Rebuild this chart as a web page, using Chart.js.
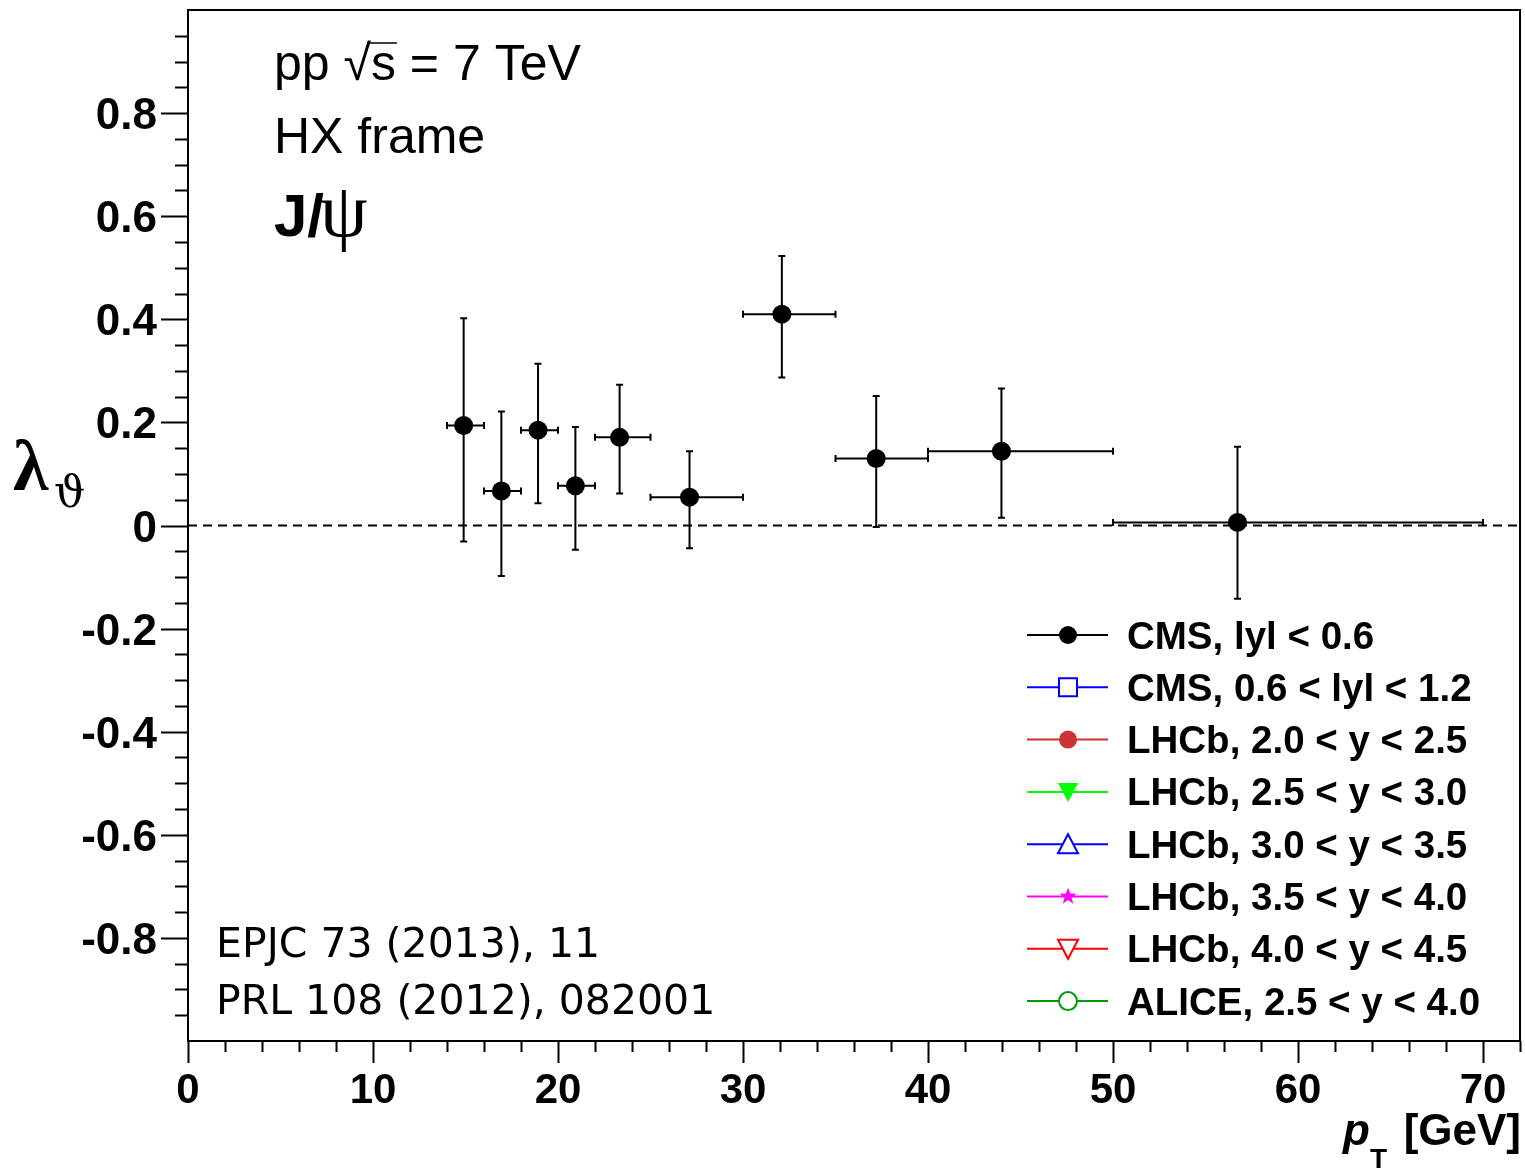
<!DOCTYPE html>
<html>
<head>
<meta charset="utf-8">
<script src="https://cdn.jsdelivr.net/npm/chart.js@4.4.0/dist/chart.umd.min.js"></script>
<style>
  html, body { margin: 0; padding: 0; background: #fff; }
  canvas { display: block; }
</style>
</head>
<body>
<canvas id="lambda" width="1525" height="1168"></canvas>
<script>
// CMS |y| < 0.6 points (pT bin centre, bin edges, lambda_theta and its error band)
const ptCenter = [14.9, 16.94, 18.92, 20.94, 23.33, 27.11, 32.1, 37.2, 43.97, 56.73];
const ptLow    = [14, 16, 18, 20, 22, 25, 30, 35, 40, 50];
const ptHigh   = [16, 18, 20, 22, 25, 30, 35, 40, 50, 70];
const lamTheta = [0.194, 0.067, 0.185, 0.077, 0.171, 0.055, 0.410, 0.130, 0.144, 0.006];
const lamLow   = [-0.031, -0.098, 0.043, -0.047, 0.062, -0.044, 0.287, -0.003, 0.015, -0.142];
const lamHigh  = [0.402, 0.221, 0.314, 0.191, 0.273, 0.144, 0.523, 0.251, 0.266, 0.153];

const seriesNames = ['CMS, lyl < 0.6', 'CMS, 0.6 < lyl < 1.2', 'LHCb, 2.0 < y < 2.5', 'LHCb, 2.5 < y < 3.0',
  'LHCb, 3.0 < y < 3.5', 'LHCb, 3.5 < y < 4.0', 'LHCb, 4.0 < y < 4.5', 'ALICE, 2.5 < y < 4.0'];
const seriesColors = ['#000000', '#0000ff', '#cc3333', '#00ff00', '#0000ff', '#ff00ff', '#ff0000', '#009900'];
const seriesMarkers = ['circleFill', 'square', 'circleFill', 'triDownFill', 'triUp', 'starFill', 'triDown', 'circle'];

const xMajor = [0, 10, 20, 30, 40, 50, 60, 70];
const yMajor = [-0.8, -0.6, -0.4, -0.2, 0, 0.2, 0.4, 0.6, 0.8];

const HELV = '"Liberation Sans", Arial, sans-serif';

function drawMarker(ctx, kind, x, y, color) {
  ctx.save();
  ctx.strokeStyle = color;
  ctx.fillStyle = color;
  ctx.lineWidth = 2;
  ctx.beginPath();
  if (kind === 'circleFill' || kind === 'circle') {
    ctx.arc(x, y, 9, 0, Math.PI * 2);
  } else if (kind === 'square') {
    ctx.rect(x - 9, y - 9, 18, 18);
  } else if (kind === 'triUp') {
    ctx.moveTo(x, y - 10); ctx.lineTo(x + 10, y + 9); ctx.lineTo(x - 10, y + 9); ctx.closePath();
  } else if (kind === 'triDown' || kind === 'triDownFill') {
    ctx.moveTo(x, y + 10); ctx.lineTo(x + 10, y - 9); ctx.lineTo(x - 10, y - 9); ctx.closePath();
  } else if (kind === 'starFill') {
    for (let i = 0; i < 10; i++) {
      const r = i % 2 === 0 ? 9 : 3.6;
      const a = -Math.PI / 2 + i * Math.PI / 5;
      const px = x + r * Math.cos(a), py = y + r * Math.sin(a);
      if (i === 0) ctx.moveTo(px, py); else ctx.lineTo(px, py);
    }
    ctx.closePath();
  }
  if (kind.endsWith('Fill')) ctx.fill(); else { ctx.fillStyle = '#fff'; ctx.fill(); ctx.stroke(); }
  ctx.restore();
}

const errorBars = {
  id: 'errorBars',
  beforeDatasetsDraw(chart) {
    const ctx = chart.ctx, xs = chart.scales.x, ys = chart.scales.y;
    ctx.save();
    ctx.strokeStyle = '#000';
    ctx.lineWidth = 2;
    // dashed zero line
    ctx.setLineDash([9, 6]);
    ctx.beginPath();
    ctx.moveTo(xs.left, ys.getPixelForValue(0));
    ctx.lineTo(xs.right, ys.getPixelForValue(0));
    ctx.stroke();
    ctx.setLineDash([]);
    for (let i = 0; i < ptCenter.length; i++) {
      const cx = xs.getPixelForValue(ptCenter[i]);
      const cy = ys.getPixelForValue(lamTheta[i]);
      const x0 = xs.getPixelForValue(ptLow[i]), x1 = xs.getPixelForValue(ptHigh[i]);
      const y0 = ys.getPixelForValue(lamLow[i]), y1 = ys.getPixelForValue(lamHigh[i]);
      ctx.beginPath();
      ctx.moveTo(x0, cy); ctx.lineTo(x1, cy);
      ctx.moveTo(cx, y0); ctx.lineTo(cx, y1);
      // end caps
      ctx.moveTo(x0, cy - 3.5); ctx.lineTo(x0, cy + 3.5);
      ctx.moveTo(x1, cy - 3.5); ctx.lineTo(x1, cy + 3.5);
      ctx.moveTo(cx - 3.5, y0); ctx.lineTo(cx + 3.5, y0);
      ctx.moveTo(cx - 3.5, y1); ctx.lineTo(cx + 3.5, y1);
      ctx.stroke();
    }
    ctx.restore();
  }
};

const frameAndText = {
  id: 'frameAndText',
  afterDraw(chart) {
    const ctx = chart.ctx, xs = chart.scales.x, ys = chart.scales.y;
    const L = xs.left, R = xs.right, T = ys.top, B = ys.bottom;
    ctx.save();
    ctx.strokeStyle = '#000';
    ctx.lineWidth = 2;
    ctx.strokeRect(L, T, R - L, B - T);

    // y ticks: majors every 0.2, minors every 0.05, drawn outside
    ctx.beginPath();
    for (let k = -19; k <= 19; k++) {
      const v = k * 0.05;
      const py = Math.round(ys.getPixelForValue(v)) + 0.5;
      const len = (k % 4 === 0) ? 27 : 13;
      ctx.moveTo(L, py); ctx.lineTo(L - len, py);
    }
    // x ticks: majors every 10, minors every 2
    for (let v = 0; v <= 72; v += 2) {
      const px = Math.round(xs.getPixelForValue(v)) + 0.5;
      const len = (v % 10 === 0) ? 22 : 11;
      ctx.moveTo(px, B); ctx.lineTo(px, B + len);
    }
    ctx.stroke();

    ctx.fillStyle = '#000';
    ctx.font = 'bold 44px ' + HELV;
    ctx.textAlign = 'right';
    ctx.textBaseline = 'alphabetic';
    yMajor.forEach(v => {
      const label = v === 0 ? '0' : v.toFixed(1);
      ctx.fillText(label, L - 31, ys.getPixelForValue(v) + 16);
    });
    ctx.font = 'bold 42px ' + HELV;
    ctx.textAlign = 'center';
    xMajor.forEach(v => {
      ctx.fillText(String(v), xs.getPixelForValue(v), 1103);
    });

    // axis titles
    ctx.textAlign = 'right';
    ctx.font = 'bold 44px ' + HELV;
    ctx.fillText('[GeV]', 1521, 1145);
    ctx.textAlign = 'left';
    ctx.font = 'italic bold 44px ' + HELV;
    ctx.fillText('p', 1343, 1145);
    ctx.font = 'bold 28px ' + HELV;
    ctx.fillText('T', 1370, 1168);

    ctx.font = 'bold 72px "Liberation Serif", "DejaVu Serif", serif';
    ctx.fillText('λ', 13, 490);
    ctx.font = '44px "DejaVu Serif", "Liberation Serif", serif';
    ctx.fillText('ϑ', 54, 507);

    // top-left labels
    ctx.font = '50px ' + HELV;
    let x = 274;
    ctx.fillText('pp ', x, 80);
    x += ctx.measureText('pp ').width;
    ctx.fillText('√', x, 80);
    x += ctx.measureText('√').width;
    const sW = ctx.measureText('s').width;
    ctx.fillText('s', x, 80);
    ctx.beginPath();
    ctx.lineWidth = 1.5;
    ctx.moveTo(x - 2, 43); ctx.lineTo(x + sW + 1, 43);
    ctx.stroke();
    x += sW;
    ctx.fillText(' = 7 TeV', x, 80);
    ctx.fillText('HX frame', 274, 153);

    ctx.font = 'bold 60px ' + HELV;
    ctx.fillText('J/', 274, 236);
    const jw = ctx.measureText('J/').width;
    ctx.font = '76px "Liberation Serif", "DejaVu Serif", serif';
    ctx.fillText('ψ', 274 + jw - 4, 236);

    ctx.font = '41px "DejaVu Sans", sans-serif';
    ctx.fillText('EPJC 73 (2013), 11', 216, 957);
    ctx.fillText('PRL 108 (2012), 082001', 216, 1014);

    // legend
    ctx.font = 'bold 38.5px ' + HELV;
    chart.data.datasets.forEach((ds, i) => {
      const ry = 635 + i * 52.3;
      ctx.strokeStyle = seriesColors[i];
      ctx.lineWidth = 2;
      ctx.beginPath();
      ctx.moveTo(1027, ry); ctx.lineTo(1108, ry);
      ctx.stroke();
      drawMarker(ctx, seriesMarkers[i], 1068, ry, seriesColors[i]);
      ctx.fillStyle = '#000';
      ctx.fillText(ds.label, 1127, ry + 13.5);
    });
    ctx.restore();
  }
};

const datasets = seriesNames.map((name, i) => ({
  label: name,
  data: i === 0 ? ptCenter.map((p, j) => ({ x: p, y: lamTheta[j] })) : [],
  backgroundColor: seriesColors[i],
  borderColor: seriesColors[i],
  pointRadius: 9.5,
  pointBorderWidth: 0,
  showLine: false
}));

new Chart(document.getElementById('lambda').getContext('2d'), {
  type: 'scatter',
  data: { datasets: datasets },
  options: {
    responsive: false,
    animation: false,
    layout: { autoPadding: false, padding: { left: 188, top: 10, right: 5, bottom: 127 } },
    plugins: { legend: { display: false }, tooltip: { enabled: false } },
    scales: {
      x: { type: 'linear', min: 0, max: 72, display: false },
      y: { type: 'linear', min: -1, max: 1, display: false }
    }
  },
  plugins: [errorBars, frameAndText]
});
</script>
</body>
</html>
